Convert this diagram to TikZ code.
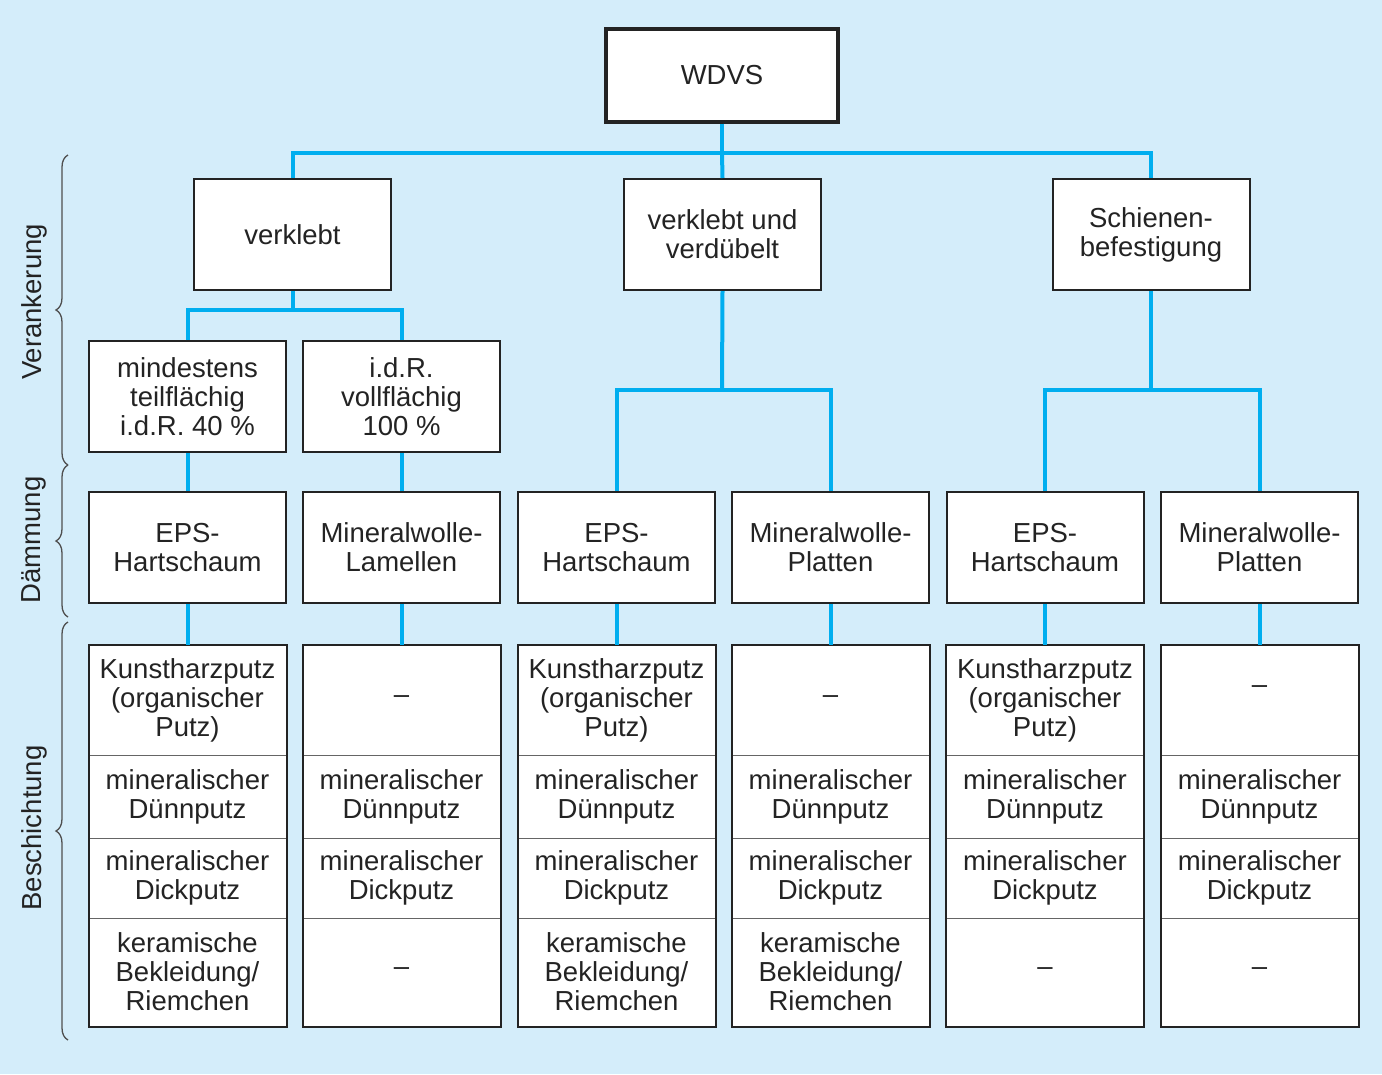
\documentclass[tikz,border=0pt]{standalone}
\usepackage{fontspec}
\setmainfont{Liberation Sans}
\usepackage{tikz}
\usetikzlibrary{decorations.pathreplacing}
\definecolor{wdvsblue}{RGB}{0, 174, 239}
\definecolor{wdvsbg}{RGB}{212, 237, 250}
\definecolor{rahmen}{RGB}{35, 35, 35}

\begin{document}
\begin{tikzpicture}[x=1pt, y=-1pt,
    txt/.style={font=\fontsize{27.5}{29}\selectfont, align=center, text=rahmen},
    box/.style={txt, draw=rahmen, line width=2, fill=white, minimum width=197, minimum height=111, inner sep=0},
    cell/.style={txt, draw=rahmen!70, line width=1, fill=white, minimum width=197, inner sep=0},
    rowa/.style={cell, minimum height=110},
    rowb/.style={cell, minimum height=83},
    rowc/.style={cell, minimum height=80},
    rowd/.style={cell, minimum height=108},
    frame/.style={draw=rahmen, line width=2},
    link/.style={wdvsblue, line width=4},
    klammer/.style={decorate, decoration={brace, amplitude=12}, draw=rahmen!80, line width=1.3}]

    % Hintergrund
    \fill[wdvsbg] (0,0) rectangle (1382,1074);
    \useasboundingbox (0,0) rectangle (1382,1074);

    % Wurzel
    \node[box, line width=4, minimum width=232, minimum height=93] (wdvs) at (722,75) {WDVS};

    % Verankerung
    \node[box] (vk) at (292.5,234.5) {verklebt};
    \node[box] (vv) at (722.5,234.5) {verklebt und\\verdübelt};
    \node[box] (sb) at (1151,234.5) {Schienen-\\befestigung};

    \node[box] (m1) at (187.5,396.5) {mindestens\\teilflächig\\i.d.R. 40 \%};
    \node[box] (m2) at (401.5,396.5) {i.d.R.\\vollflächig\\100 \%};

    % Dämmung
    \node[box] (d1) at (187.5,547.5) {EPS-\\Hartschaum};
    \node[box] (d2) at (401.5,547.5) {Mineralwolle-\\Lamellen};
    \node[box] (d3) at (616.5,547.5) {EPS-\\Hartschaum};
    \node[box] (d4) at (830.5,547.5) {Mineralwolle-\\Platten};
    \node[box] (d5) at (1045,547.5) {EPS-\\Hartschaum};
    \node[box] (d6) at (1259.5,547.5) {Mineralwolle-\\Platten};

    % Beschichtung
    \node[rowa] (a1) at (187.5,700) {Kunstharzputz\\(organischer\\Putz)};
    \node[rowb] (b1) at (187.5,796.5) {mineralischer\\Dünnputz};
    \node[rowc] (c1) at (187.5,878) {mineralischer\\Dickputz};
    \node[rowd] (e1) at (187.5,972) {keramische\\Bekleidung/\\Riemchen};

    \node[rowa] (a2) at (401.5,700) {--};
    \node[rowb] (b2) at (401.5,796.5) {mineralischer\\Dünnputz};
    \node[rowc] (c2) at (401.5,878) {mineralischer\\Dickputz};
    \node[rowd] (e2) at (401.5,972) {--};

    \node[rowa] (a3) at (616.5,700) {Kunstharzputz\\(organischer\\Putz)};
    \node[rowb] (b3) at (616.5,796.5) {mineralischer\\Dünnputz};
    \node[rowc] (c3) at (616.5,878) {mineralischer\\Dickputz};
    \node[rowd] (e3) at (616.5,972) {keramische\\Bekleidung/\\Riemchen};

    \node[rowa] (a4) at (830.5,700) {--};
    \node[rowb] (b4) at (830.5,796.5) {mineralischer\\Dünnputz};
    \node[rowc] (c4) at (830.5,878) {mineralischer\\Dickputz};
    \node[rowd] (e4) at (830.5,972) {keramische\\Bekleidung/\\Riemchen};

    \node[rowa] (a5) at (1045,700) {Kunstharzputz\\(organischer\\Putz)};
    \node[rowb] (b5) at (1045,796.5) {mineralischer\\Dünnputz};
    \node[rowc] (c5) at (1045,878) {mineralischer\\Dickputz};
    \node[rowd] (e5) at (1045,972) {--};

    \node[rowa, text depth=20] (a6) at (1259.5,700) {--};
    \node[rowb] (b6) at (1259.5,796.5) {mineralischer\\Dünnputz};
    \node[rowc] (c6) at (1259.5,878) {mineralischer\\Dickputz};
    \node[rowd] (e6) at (1259.5,972) {--};

    \foreach \i in {1,...,6}
        \draw[frame] (a\i.north west) rectangle (e\i.south east);

    % Verbindungen
    \coordinate (j0) at (722,153);
    \coordinate (j1) at (vk.south |- 0,310);
    \coordinate (j2) at (722,390);
    \coordinate (j3) at (sb.south |- 0,390);

    \draw[link] (wdvs.south) -- (j0);
    \draw[link] (j0) -- (vv.north);
    \draw[link] (vk.north) |- (j0) -| (sb.north);

    \draw[link] (vk.south) -- (j1);
    \draw[link] (m1.north) |- (j1) -| (m2.north);
    \draw[link] (m1.south) -- (d1.north);
    \draw[link] (m2.south) -- (d2.north);

    \draw[link] (vv.south) -- (j2);
    \draw[link] (d3.north) |- (j2) -| (d4.north);
    \draw[link] (sb.south) -- (j3);
    \draw[link] (d5.north) |- (j3) -| (d6.north);

    \foreach \i in {1,...,6}
        \draw[link] (d\i.south) -- (a\i.north);

    % Klammern
    \coordinate (k0) at (68,155);
    \coordinate (k1) at (68,465);
    \coordinate (k2) at (68,617);
    \coordinate (k3) at (68,622);
    \coordinate (k4) at (68,1040);
    \draw[klammer] (k1) -- (k0);
    \draw[klammer] (k2) -- (k1);
    \draw[klammer] (k4) -- (k3);

    \node[txt, rotate=90] (lv) at (34,302) {Verankerung};
    \node[txt, rotate=90] (ld) at (34,540) {Dämmung};
    \node[txt, rotate=90] (lb) at (34,828) {Beschichtung};
\end{tikzpicture}
\end{document}
